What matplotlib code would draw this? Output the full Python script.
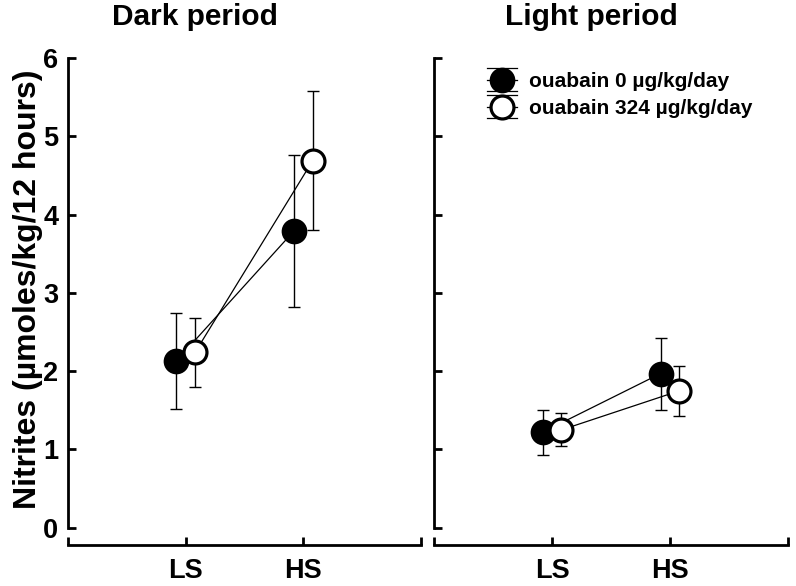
import numpy as np
import matplotlib
matplotlib.use("Agg")
import matplotlib.pyplot as plt
from matplotlib.lines import Line2D
from matplotlib.legend_handler import HandlerBase

plt.rcParams['font.family'] = ['Liberation Sans', 'DejaVu Sans']
plt.rcParams['font.weight'] = 'bold'

# data
groups = ['LS', 'HS']
dark_ctrl = [2.13, 3.79]
dark_ctrl_err = [0.61, 0.97]
dark_oua = [2.24, 4.69]
dark_oua_err = [0.44, 0.89]
light_ctrl = [1.22, 1.97]
light_ctrl_err = [0.29, 0.46]
light_oua = [1.25, 1.75]
light_oua_err = [0.21, 0.32]
titles = ['Dark period', 'Light period']
labels = ['ouabain 0 \u00b5g/kg/day', 'ouabain 324 \u00b5g/kg/day']

fig = plt.figure(figsize=(7.96, 5.86), dpi=100)
ax1 = fig.add_axes([68/796, 1-545/586, 353/796, 487/586])
ax2 = fig.add_axes([434/796, 1-545/586, 354/796, 487/586])

x = np.array([1, 2])
off = 0.08
ms = 16.5


class ErrMarkerHandler(HandlerBase):
    """legend key: marker with horizontal bars above, through and below"""
    def __init__(self, mfc, mew):
        super().__init__()
        self.mfc = mfc
        self.mew = mew

    def create_artists(self, legend, orig_handle, xdescent, ydescent,
                       width, height, fontsize, trans):
        cy = height / 2 - ydescent
        x0 = -xdescent
        arts = []
        for dy in (-ms / 2, 0, ms / 2):
            arts.append(Line2D([x0, x0 + width], [cy + dy, cy + dy],
                               color='black', lw=0.9, transform=trans))
        arts.append(Line2D([x0 + width / 2], [cy], marker='o', ms=ms,
                           mfc=self.mfc, mec='black', mew=self.mew,
                           linestyle='none', transform=trans))
        return arts


def draw(ax, ctrl, ctrl_err, oua, oua_err):
    ax.plot(x - off, ctrl, color='black', lw=0.9, zorder=1)
    ax.plot(x + off, oua, color='black', lw=0.9, zorder=1)
    ax.errorbar(x - off, ctrl, yerr=ctrl_err, fmt='none', ecolor='black',
                elinewidth=1.0, capsize=4.5, capthick=1.0, zorder=2)
    ax.errorbar(x + off, oua, yerr=oua_err, fmt='none', ecolor='black',
                elinewidth=1.0, capsize=4.5, capthick=1.0, zorder=2)
    ax.plot(x - off, ctrl, 'o', ms=ms, mfc='black', mec='black', mew=2.0, zorder=3)
    ax.plot(x + off, oua, 'o', ms=ms, mfc='white', mec='black', mew=2.3, zorder=4)

    ax.set_xlim(0, 3)
    ax.set_ylim(-0.22, 6)
    ax.spines['top'].set_visible(False)
    ax.spines['right'].set_visible(False)
    ax.spines['left'].set_bounds(0, 6)
    for s in ['left', 'bottom']:
        ax.spines[s].set_linewidth(2.0)
    ax.set_xticks([0, 1, 2, 3])
    ax.set_xticklabels(['', groups[0], groups[1], ''])
    ax.set_yticks(range(7))
    ax.tick_params(axis='both', direction='in', length=5.5, width=2.0,
                   labelsize=19.5)
    ax.tick_params(axis='x', pad=9)
    ax.tick_params(axis='y', pad=7)


draw(ax1, dark_ctrl, dark_ctrl_err, dark_oua, dark_oua_err)
draw(ax2, light_ctrl, light_ctrl_err, light_oua, light_oua_err)
ax2.set_yticklabels([])

fig.text(28/796, 1-289/586, 'Nitrites (\u00b5moles/kg/12 hours)', fontsize=23,
         fontweight='bold', rotation=90, ha='center', va='center')

fig.text(194.5/796, 1-17/586, titles[0], fontsize=21.5, fontweight='bold',
         ha='center', va='center')
fig.text(591.5/796, 1-17/586, titles[1], fontsize=21.5, fontweight='bold',
         ha='center', va='center')

h1 = Line2D([], [])
h2 = Line2D([], [])
fig.legend([h1, h2], labels, loc='center left',
           bbox_to_anchor=(487/796, 1-95/586), frameon=False,
           handlelength=1.45, handletextpad=0.58, labelspacing=0.39,
           borderpad=0, borderaxespad=0,
           prop={'weight': 'bold', 'size': 15},
           handler_map={h1: ErrMarkerHandler('black', 2.0),
                        h2: ErrMarkerHandler('white', 2.3)})

fig.savefig('out.png', dpi=100)
